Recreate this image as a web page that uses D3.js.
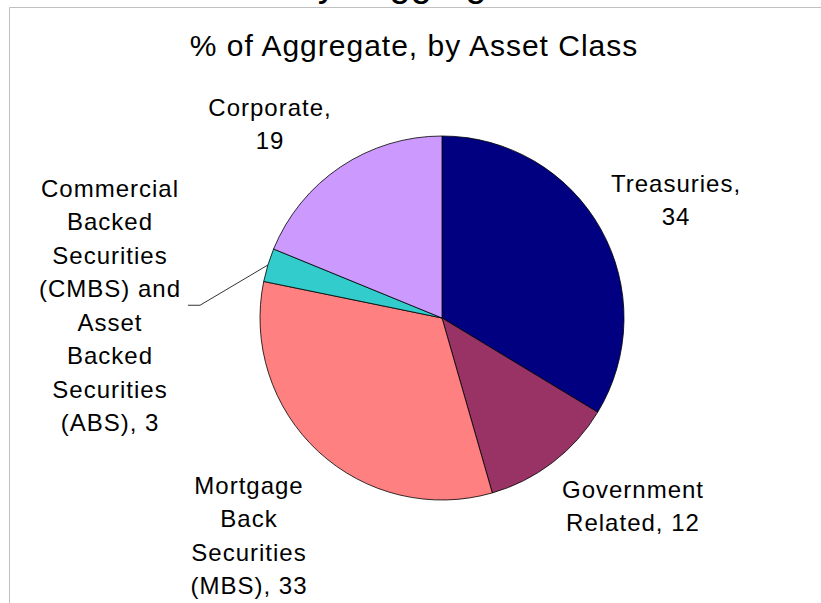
<!DOCTYPE html>
<html lang="en">
<head>
    <meta charset="UTF-8">
    <title>% of Aggregate, by Asset Class</title>
    <script src="https://d3js.org/d3.v7.min.js"></script>
    <style type="text/css">
        body {
            margin: 0;
            background: #fff;
        }

        text {
            font-family: "Liberation Sans", Arial, sans-serif;
            fill: #000;
        }
    </style>
</head>
<body>
    <div id="chartArea"></div>
    <script type="text/javascript">
        // data (sums to 101, as in the source)
        var categories = ['Treasuries', 'Government Related', 'Mortgage Back Securities (MBS)',
            'Commercial Backed Securities (CMBS) and Asset Backed Securities (ABS)', 'Corporate'];
        var values = [34, 12, 33, 3, 19];
        var labelLines = [
            ['Treasuries,', '34'],
            ['Government', 'Related, 12'],
            ['Mortgage', 'Back', 'Securities', '(MBS), 33'],
            ['Commercial', 'Backed', 'Securities', '(CMBS) and', 'Asset', 'Backed', 'Securities', '(ABS), 3'],
            ['Corporate,', '19']
        ];
        var colors = ['#000080', '#993366', '#ff8080', '#33cccc', '#cc99ff'];

        var w = 821, h = 603;
        var cx = 442, cy = 318, r = 182;
        var lineStep = 33.5;
        // centre of each label block (x) and centre of its first line (y)
        var labelPos = [[676, 183], [633, 489], [249, 485], [110, 188], [270, 107]];

        var svg = d3.select('#chartArea').append('svg')
            .attr('width', w)
            .attr('height', h);

        // chart area border (top and left edge visible)
        svg.append('path')
            .attr('d', 'M9.5,' + h + 'V7.5H' + w)
            .attr('fill', 'none')
            .attr('stroke', '#c0c0c0')
            .attr('stroke-width', 1);

        // clipped heading above the chart area
        svg.append('text')
            .attr('x', 210)
            .attr('y', -4)
            .style('font-size', '38px')
            .text('Barclays Aggregate Index');

        svg.append('text')
            .attr('x', 414)
            .attr('y', 56)
            .attr('text-anchor', 'middle')
            .style('font-size', '30px')
            .style('letter-spacing', '1px')
            .text('% of Aggregate, by Asset Class');

        var pie = d3.pie().sort(null).value(function (d) { return d; });
        var arcs = pie(values);

        var arc = d3.arc().innerRadius(0).outerRadius(r);
        var edgeArc = d3.arc().innerRadius(r).outerRadius(r);

        var g = svg.append('g').attr('transform', 'translate(' + cx + ',' + cy + ')');

        g.selectAll('path.slice')
            .data(arcs)
            .enter()
            .append('path')
            .attr('class', 'slice')
            .attr('d', arc)
            .attr('fill', function (d, i) { return colors[i]; })
            .attr('stroke', '#000')
            .attr('stroke-width', 0.8);

        // leader line for the small CMBS / ABS slice
        var p = edgeArc.centroid(arcs[3]);
        var lp = labelPos[3];
        var lineY = lp[1] + lineStep * 3.5;
        svg.append('polyline')
            .attr('points', [[188, lineY], [200, lineY], [cx + p[0], cy + p[1]]].join(' '))
            .attr('fill', 'none')
            .attr('stroke', '#000')
            .attr('stroke-width', 0.8);

        labelLines.forEach(function (lines, i) {
            var t = svg.append('text')
                .attr('text-anchor', 'middle')
                .style('font-size', '24px')
                .style('letter-spacing', '1px');
            lines.forEach(function (s, j) {
                t.append('tspan')
                    .attr('x', labelPos[i][0])
                    .attr('y', labelPos[i][1] + 8.6 + j * lineStep)
                    .text(s);
            });
        });
    </script>
</body>
</html>
